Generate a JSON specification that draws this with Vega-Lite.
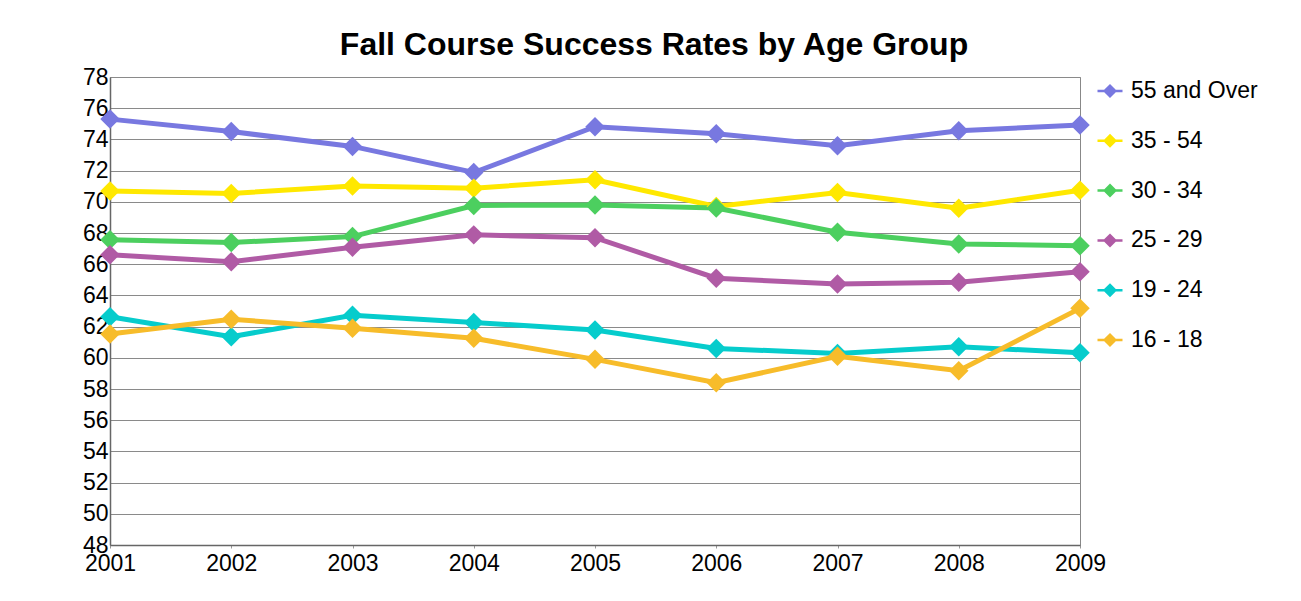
{
  "$schema": "https://vega.github.io/schema/vega-lite/v6.json",
  "width": 970,
  "height": 468,
  "autosize": {"type": "none"},
  "padding": {"left": 110, "top": 77, "right": 221, "bottom": 56},
  "background": "white",
  "title": {
    "text": "Fall Course Success Rates by Age Group",
    "font": "Liberation Sans",
    "fontSize": 32,
    "fontWeight": "bold",
    "color": "black",
    "anchor": "middle",
    "frame": "group",
    "baseline": "alphabetic",
    "dx": 59,
    "offset": -21
  },
  "config": {
    "font": "Liberation Sans",
    "view": {"stroke": "#888888", "strokeWidth": 1},
    "axis": {
      "labelFont": "Liberation Sans",
      "labelFontSize": 23,
      "labelColor": "black",
      "domainColor": "#666666",
      "domainWidth": 1.5,
      "gridColor": "#8a8a8a",
      "gridWidth": 1,
      "gridOpacity": 1,
      "tickColor": "#999999",
      "tickSize": 3,
      "title": null
    },
    "legend": {
      "labelFont": "Liberation Sans",
      "labelFontSize": 23,
      "labelColor": "black"
    }
  },
  "data": {
    "values": [
      {"year": 2001, "group": "55 and Over", "rate": 75.3},
      {"year": 2002, "group": "55 and Over", "rate": 74.5},
      {"year": 2003, "group": "55 and Over", "rate": 73.55},
      {"year": 2004, "group": "55 and Over", "rate": 71.88},
      {"year": 2005, "group": "55 and Over", "rate": 74.81},
      {"year": 2006, "group": "55 and Over", "rate": 74.36},
      {"year": 2007, "group": "55 and Over", "rate": 73.6},
      {"year": 2008, "group": "55 and Over", "rate": 74.55},
      {"year": 2009, "group": "55 and Over", "rate": 74.92},
      {"year": 2001, "group": "35 - 54", "rate": 70.7},
      {"year": 2002, "group": "35 - 54", "rate": 70.53},
      {"year": 2003, "group": "35 - 54", "rate": 71.02},
      {"year": 2004, "group": "35 - 54", "rate": 70.87},
      {"year": 2005, "group": "35 - 54", "rate": 71.41},
      {"year": 2006, "group": "35 - 54", "rate": 69.7},
      {"year": 2007, "group": "35 - 54", "rate": 70.6},
      {"year": 2008, "group": "35 - 54", "rate": 69.59},
      {"year": 2009, "group": "35 - 54", "rate": 70.74},
      {"year": 2001, "group": "30 - 34", "rate": 67.56},
      {"year": 2002, "group": "30 - 34", "rate": 67.39},
      {"year": 2003, "group": "30 - 34", "rate": 67.77},
      {"year": 2004, "group": "30 - 34", "rate": 69.76},
      {"year": 2005, "group": "30 - 34", "rate": 69.8},
      {"year": 2006, "group": "30 - 34", "rate": 69.6},
      {"year": 2007, "group": "30 - 34", "rate": 68.05},
      {"year": 2008, "group": "30 - 34", "rate": 67.3},
      {"year": 2009, "group": "30 - 34", "rate": 67.19},
      {"year": 2001, "group": "25 - 29", "rate": 66.6},
      {"year": 2002, "group": "25 - 29", "rate": 66.16},
      {"year": 2003, "group": "25 - 29", "rate": 67.09},
      {"year": 2004, "group": "25 - 29", "rate": 67.88},
      {"year": 2005, "group": "25 - 29", "rate": 67.7},
      {"year": 2006, "group": "25 - 29", "rate": 65.1},
      {"year": 2007, "group": "25 - 29", "rate": 64.73},
      {"year": 2008, "group": "25 - 29", "rate": 64.84},
      {"year": 2009, "group": "25 - 29", "rate": 65.52},
      {"year": 2001, "group": "19 - 24", "rate": 62.63},
      {"year": 2002, "group": "19 - 24", "rate": 61.35},
      {"year": 2003, "group": "19 - 24", "rate": 62.72},
      {"year": 2004, "group": "19 - 24", "rate": 62.27},
      {"year": 2005, "group": "19 - 24", "rate": 61.78},
      {"year": 2006, "group": "19 - 24", "rate": 60.6},
      {"year": 2007, "group": "19 - 24", "rate": 60.28},
      {"year": 2008, "group": "19 - 24", "rate": 60.71},
      {"year": 2009, "group": "19 - 24", "rate": 60.32},
      {"year": 2001, "group": "16 - 18", "rate": 61.52},
      {"year": 2002, "group": "16 - 18", "rate": 62.47},
      {"year": 2003, "group": "16 - 18", "rate": 61.89},
      {"year": 2004, "group": "16 - 18", "rate": 61.25},
      {"year": 2005, "group": "16 - 18", "rate": 59.9},
      {"year": 2006, "group": "16 - 18", "rate": 58.4},
      {"year": 2007, "group": "16 - 18", "rate": 60.1},
      {"year": 2008, "group": "16 - 18", "rate": 59.17},
      {"year": 2009, "group": "16 - 18", "rate": 63.17}
    ]
  },
  "encoding": {
    "x": {
      "field": "year",
      "type": "ordinal",
      "scale": {"type": "point", "padding": 0},
      "axis": {"labelAngle": 0, "labelPadding": 4, "grid": false}
    },
    "y": {
      "field": "rate",
      "type": "quantitative",
      "scale": {"domain": [48, 78], "nice": false, "zero": false},
      "axis": {"values": [48, 50, 52, 54, 56, 58, 60, 62, 64, 66, 68, 70, 72, 74, 76, 78], "labelPadding": 2, "tickSize": 0, "grid": true}
    },
    "color": {
      "field": "group",
      "type": "nominal",
      "scale": {
        "domain": ["55 and Over", "35 - 54", "30 - 34", "25 - 29", "19 - 24", "16 - 18"],
        "range": ["#7878E0", "#FFE800", "#4CCF5F", "#B05BA5", "#06CCCC", "#F7BC2A"]
      },
      "legend": {
        "title": null,
        "orient": "right",
        "offset": 6,
        "padding": 0,
        "symbolType": "M-1,0L1,0M-0.42,0L0,-0.42L0.42,0L0,0.42Z",
        "symbolSize": 625,
        "symbolStrokeWidth": 2.5,
        "labelOffset": 7,
        "rowPadding": 23.8
      }
    }
  },
  "layer": [
    {"mark": {"type": "line", "strokeWidth": 5}},
    {"mark": {"type": "point", "shape": "diamond", "filled": true, "size": 380, "opacity": 1}}
  ]
}
